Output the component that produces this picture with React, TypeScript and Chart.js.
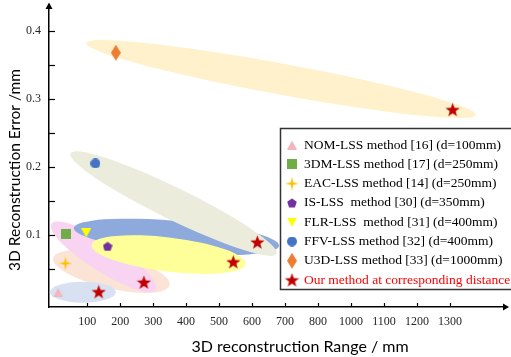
import React, { useEffect, useRef } from 'react';
import { Chart, registerables } from 'chart.js';
Chart.register(...registerables);

// ---- data (x in mm as labelled on the broken axis: 800 -> 1000 jump) ----
const xTickValues = [100, 200, 300, 400, 500, 600, 700, 800, 1000, 1100, 1200, 1300];
const yTickValues = [0.05, 0.1, 0.15, 0.2, 0.25, 0.3, 0.35, 0.4];
const yTickLabels = ['', '0.1', '', '0.2', '', '0.3', '', '0.4'];

const methodNames = [
  'NOM-LSS method [16] (d=100mm)',
  '3DM-LSS method [17] (d=250mm)',
  'EAC-LSS method [14] (d=250mm)',
  'IS-LSS  method [30] (d=350mm)',
  'FLR-LSS  method [31] (d=400mm)',
  'FFV-LSS method [32] (d=400mm)',
  'U3D-LSS method [33] (d=1000mm)',
];
const methodRange = [12, 36, 34, 162, 97, 125, 187];
const methodError = [0.015, 0.101, 0.058, 0.083, 0.103, 0.205, 0.368];

const oursLabel = 'Our method at corresponding distance';
const oursRange = [135, 272, 543, 616, 1308];
const oursError = [0.016, 0.03, 0.06, 0.089, 0.284];

// comparison regions (one per method): major-axis end points in data units
const regionStartX = [-13, -8.5, -3, 113.5, 59.5, 49.5, 97];
const regionStartY = [0.0156, 0.116, 0.066, 0.085, 0.11, 0.22, 0.382];
const regionEndX = [187, 309, 350, 581, 682, 674, 1378];
const regionEndY = [0.0156, 0.019, 0.026, 0.057, 0.084, 0.072, 0.2765];

// ---- styles ----
const regionColors = ['#D8E1F1', '#F9D4F2', '#FBE4D5', '#FFFF99', '#8EAADC', '#EBECDC', '#FFF1CC'];
const regionHalfWidth = [10.5, 15, 17, 17, 16, 16, 15.5];
const regionOrder = [2, 0, 1, 4, 5, 3, 6];

const SERIF = '"Liberation Serif", "Times New Roman", serif';
const SANS = 'Lato, "Open Sans", sans-serif';

// axis gap: 900 is skipped on the x axis
const toAxis = (mm: number) => (mm > 850 ? mm - 100 : mm);

function makeCanvas(w: number, h: number, draw: (g: CanvasRenderingContext2D) => void) {
  const c = document.createElement('canvas');
  c.width = w;
  c.height = h;
  const g = c.getContext('2d')!;
  draw(g);
  return c;
}

function poly(g: CanvasRenderingContext2D, pts: number[][], color: string) {
  g.beginPath();
  pts.forEach((p, i) => (i ? g.lineTo(p[0], p[1]) : g.moveTo(p[0], p[1])));
  g.closePath();
  g.fillStyle = color;
  g.fill();
}

function starPts(cx: number, cy: number, R: number, r: number, n: number, start: number) {
  const pts: number[][] = [];
  for (let k = 0; k < n * 2; k++) {
    const ang = start + (k * Math.PI) / n;
    const rad = k % 2 === 0 ? R : r;
    pts.push([cx + rad * Math.cos(ang), cy + rad * Math.sin(ang)]);
  }
  return pts;
}

function buildMarkers() {
  const triUp = makeCanvas(10, 9, (g) => poly(g, [[5, 0], [10, 9], [0, 9]], '#F5B5BD'));
  const square = makeCanvas(10, 10, (g) => poly(g, [[0, 0], [10, 0], [10, 10], [0, 10]], '#70AD47'));
  const sparkle = makeCanvas(14, 14, (g) => poly(g, starPts(7, 7, 7, 1.7, 4, -Math.PI / 2), '#FFC000'));
  const pentagon = makeCanvas(10, 10, (g) => {
    const pts: number[][] = [];
    for (let k = 0; k < 5; k++) {
      const a = -Math.PI / 2 + (k * 2 * Math.PI) / 5;
      pts.push([5 + 5 * Math.cos(a), 5.4 + 5 * Math.sin(a)]);
    }
    poly(g, pts, '#7030A0');
  });
  const triDown = makeCanvas(10, 9, (g) => poly(g, [[0, 0], [10, 0], [5, 9]], '#FFFF00'));
  const circle = makeCanvas(10, 10, (g) => {
    g.beginPath();
    g.arc(5, 5, 5, 0, Math.PI * 2);
    g.fillStyle = '#4472C4';
    g.fill();
  });
  const diamond = makeCanvas(10, 16, (g) => poly(g, [[5, 0], [10, 8], [5, 16], [0, 8]], '#ED7D31'));
  const star = makeCanvas(15, 15, (g) => poly(g, starPts(7.5, 8, 7.5, 3.1, 5, -Math.PI / 2), '#C00000'));
  return [triUp, square, sparkle, pentagon, triDown, circle, diamond, star];
}

export default function App() {
  const ref = useRef<HTMLCanvasElement>(null);

  useEffect(() => {
    const canvas = ref.current!;
    const markers = buildMarkers();

    const decor = {
      id: 'decor',
      beforeDatasetsDraw(chart: any) {
        const { ctx, scales } = chart;
        const xs = scales.x;
        const ys = scales.y;
        ctx.save();
        regionOrder.forEach((i) => {
          const x1 = xs.getPixelForValue(toAxis(regionStartX[i]));
          const y1 = ys.getPixelForValue(regionStartY[i]);
          const x2 = xs.getPixelForValue(toAxis(regionEndX[i]));
          const y2 = ys.getPixelForValue(regionEndY[i]);
          const cx = (x1 + x2) / 2;
          const cy = (y1 + y2) / 2;
          const a = Math.hypot(x2 - x1, y2 - y1) / 2;
          const ang = Math.atan2(y2 - y1, x2 - x1);
          ctx.beginPath();
          ctx.ellipse(cx, cy, a, regionHalfWidth[i], ang, 0, Math.PI * 2);
          ctx.fillStyle = regionColors[i];
          ctx.fill();
        });
        ctx.restore();
      },
      afterDraw(chart: any) {
        const { ctx, scales, chartArea } = chart;
        const xs = scales.x;
        const ys = scales.y;
        const left = chartArea.left;
        const bottom = chartArea.bottom;
        ctx.save();
        ctx.strokeStyle = '#000';
        ctx.lineWidth = 1.2;
        // inward tick marks
        yTickValues.forEach((v) => {
          const py = Math.round(ys.getPixelForValue(v)) + 0.5;
          ctx.beginPath();
          ctx.moveTo(left, py);
          ctx.lineTo(left + 6, py);
          ctx.stroke();
        });
        xTickValues.forEach((v) => {
          const px = Math.round(xs.getPixelForValue(toAxis(v))) + 0.5;
          ctx.beginPath();
          ctx.moveTo(px, bottom);
          ctx.lineTo(px, bottom - 4);
          ctx.stroke();
        });
        // arrows
        ctx.fillStyle = '#000';
        ctx.beginPath();
        ctx.moveTo(left - 3.5, chartArea.top + 1);
        ctx.lineTo(left, chartArea.top - 5.5);
        ctx.lineTo(left + 3.5, chartArea.top + 1);
        ctx.closePath();
        ctx.fill();
        ctx.beginPath();
        ctx.moveTo(chartArea.right, bottom - 3.5);
        ctx.lineTo(chartArea.right + 6, bottom);
        ctx.lineTo(chartArea.right, bottom + 3.5);
        ctx.closePath();
        ctx.fill();

        // axis titles
        ctx.fillStyle = '#000';
        ctx.textAlign = 'center';
        ctx.textBaseline = 'middle';
        ctx.font = `16px ${SANS}`;
        ctx.fillText('3D reconstruction Range / mm', 300, 347);
        ctx.save();
        ctx.translate(15, 170);
        ctx.rotate(-Math.PI / 2);
        ctx.font = `15.5px ${SANS}`;
        ctx.fillText('3D Reconstruction Error /mm', 0, 0);
        ctx.restore();

        // legend
        const bx = 280.5;
        const by = 128.5;
        ctx.fillStyle = '#fff';
        ctx.fillRect(bx, by, 240, 161);
        ctx.strokeStyle = '#333';
        ctx.lineWidth = 1.5;
        ctx.strokeRect(bx, by, 240, 161);
        const labels = [...methodNames, oursLabel];
        ctx.textAlign = 'left';
        ctx.font = `13.5px ${SERIF}`;
        labels.forEach((lab, i) => {
          const yy = 145 + 19.3 * i;
          const m = markers[i];
          ctx.drawImage(m, 292 - m.width / 2, yy - m.height / 2);
          ctx.fillStyle = i === labels.length - 1 ? '#FF0000' : '#000';
          ctx.fillText(lab, 304, yy);
        });
        ctx.restore();
      },
    };

    const datasets: any[] = methodNames.map((name, i) => ({
      label: name,
      data: [{ x: toAxis(methodRange[i]), y: methodError[i] }],
      pointStyle: markers[i],
      pointRadius: 6,
    }));
    datasets.push({
      label: oursLabel,
      data: oursRange.map((r, i) => ({ x: toAxis(r), y: oursError[i] })),
      pointStyle: markers[7],
      pointRadius: 7,
    });

    const chart = new Chart(canvas, {
      type: 'scatter',
      data: { datasets },
      options: {
        responsive: false,
        animation: false,
        devicePixelRatio: 1,
        layout: { padding: { left: 0, right: 6, top: 8, bottom: 0 } },
        plugins: { legend: { display: false }, tooltip: { enabled: false } },
        scales: {
          x: {
            type: 'linear',
            min: -15.7,
            max: 1360.7,
            afterBuildTicks: (s: any) => {
              s.ticks = xTickValues.map((v) => ({ value: toAxis(v) }));
            },
            afterFit: (s: any) => {
              s.height = 50;
              s.paddingLeft = 0;
              s.paddingRight = 0;
            },
            grid: { display: false, drawTicks: false },
            border: { display: true, color: '#000', width: 1.5 },
            ticks: {
              autoSkip: false,
              maxRotation: 0,
              padding: 8,
              color: '#262626',
              font: { family: SERIF, size: 12 },
              callback: (_v: any, i: number) => String(xTickValues[i]),
            },
          },
          y: {
            type: 'linear',
            min: -0.0062,
            max: 0.4338,
            afterBuildTicks: (s: any) => {
              s.ticks = yTickValues.map((v) => ({ value: v }));
            },
            afterFit: (s: any) => {
              s.width = 49;
              s.paddingTop = 0;
              s.paddingBottom = 0;
            },
            grid: { display: false, drawTicks: false },
            border: { display: true, color: '#000', width: 1.5 },
            ticks: {
              autoSkip: false,
              padding: 8,
              color: '#262626',
              font: { family: SERIF, size: 12 },
              callback: (_v: any, i: number) => yTickLabels[i],
            },
          },
        },
      },
      plugins: [decor],
    } as any);

    return () => chart.destroy();
  }, []);

  return (
    <div style={{ position: 'fixed', left: 0, top: 0, width: 511, height: 357, background: '#fff' }}>
      <canvas ref={ref} width={511} height={357} style={{ display: 'block', width: 511, height: 357 }} />
    </div>
  );
}
